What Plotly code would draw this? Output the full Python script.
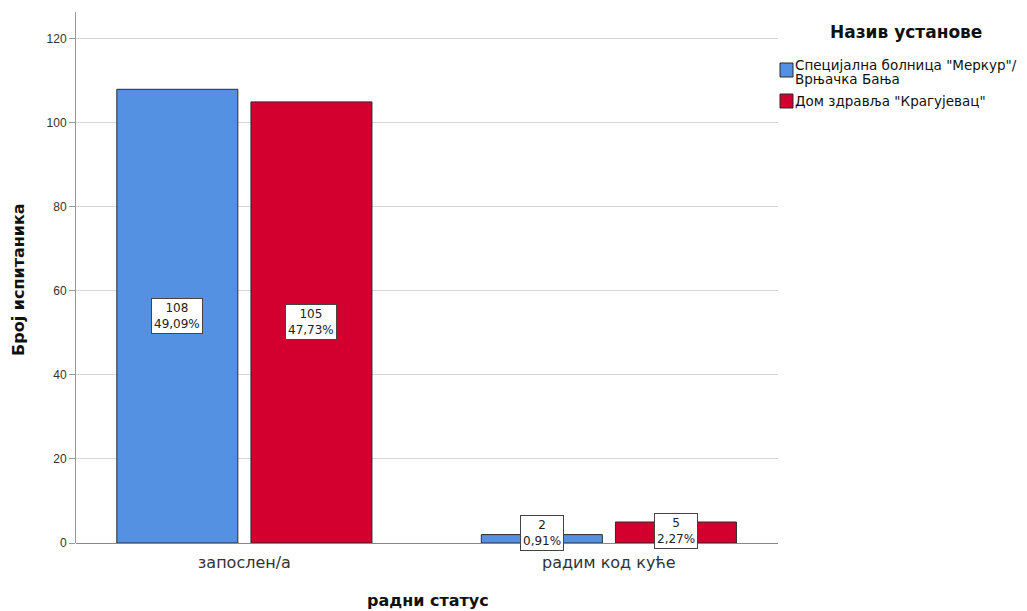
import plotly.graph_objects as go

categories = ["запослен/а", "радим код куће"]
series_names = ["Специјална болница \"Меркур\"/ Врњачка Бања", "Дом здравља \"Крагујевац\""]
legend_lines = [["Специјална болница \"Меркур\"/", "Врњачка Бања"], ["Дом здравља \"Крагујевац\""]]
values_merkur = [108, 2]
values_kg = [105, 5]
pct_merkur = ["49,09%", "0,91%"]
pct_kg = ["47,73%", "2,27%"]
colors = ["#5591e2", "#d3002f"]

FONT = "DejaVu Sans, sans-serif"
TICKFONT = "Liberation Sans, Arial, sans-serif"

W, H = 1027, 611
ML, MR, MT, MB = 76, 249, 12, 68
PW, PH = W - ML - MR, H - MT - MB


def px(x):
    return (x - ML) / PW


def py(y):
    return 1 - (y - MT) / PH


xpos = [0, 1]
bar_w = 0.332
offsets = [-0.35, 0.018]

fig = go.Figure()
for name, vals, col, off in zip(series_names, [values_merkur, values_kg], colors, offsets):
    fig.add_trace(go.Bar(
        x=xpos, y=vals, name=name, width=bar_w, offset=off,
        marker=dict(color=col, line=dict(color="#2b2b2b", width=1)),
        showlegend=False,
    ))

yshifts = [[0, 6], [0, 2]]
for vals, pcts, off, ys in zip([values_merkur, values_kg], [pct_merkur, pct_kg], offsets, yshifts):
    for xi, v, p, s in zip(xpos, vals, pcts, ys):
        fig.add_annotation(
            x=xi + off + bar_w / 2, y=v / 2, yshift=s,
            text=f"{v}<br>{p}", showarrow=False,
            font=dict(family=FONT, size=12, color="#222"),
            bgcolor="white", bordercolor="#444", borderwidth=1, borderpad=2,
            align="center",
        )

# axis titles
fig.add_annotation(xref="paper", yref="paper", x=px(18), y=py(280), textangle=-90,
                   text="<b>Број испитаника</b>", showarrow=False,
                   font=dict(family=FONT, size=16, color="#111"), xanchor="center", yanchor="middle")
fig.add_annotation(xref="paper", yref="paper", x=px(428), y=py(600),
                   text="<b>радни статус</b>", showarrow=False,
                   font=dict(family=FONT, size=16, color="#111"), xanchor="center", yanchor="middle")

# legend (drawn manually to mirror the reference layout)
fig.add_annotation(xref="paper", yref="paper", x=px(906), y=py(32),
                   text="<b>Назив установе</b>", showarrow=False,
                   font=dict(family=FONT, size=17, color="#111"), xanchor="center", yanchor="middle")
legend_boxes = [(63, 77), (94, 108)]
legend_text_y = [[65, 79], [101]]
for (y0, y1), lines, tys, col in zip(legend_boxes, legend_lines, legend_text_y, colors):
    fig.add_shape(type="rect", xref="paper", yref="paper",
                  x0=px(780), x1=px(793), y0=py(y1), y1=py(y0),
                  fillcolor=col, line=dict(color="#2b2b2b", width=1))
    for line, ty in zip(lines, tys):
        fig.add_annotation(xref="paper", yref="paper", x=px(794), y=py(ty),
                           text=line, showarrow=False, align="left",
                           font=dict(family=FONT, size=13.5, color="#111"),
                           xanchor="left", yanchor="middle", borderpad=0)

fig.update_layout(
    width=W, height=H,
    margin=dict(l=ML, r=MR, t=MT, b=MB, autoexpand=False),
    paper_bgcolor="white", plot_bgcolor="white",
    font=dict(family=FONT, color="#222"),
    barmode="overlay",
    showlegend=False,
    xaxis=dict(
        range=[-0.462, 1.464], tickvals=xpos, ticktext=categories,
        tickfont=dict(size=16, family=FONT, color="#333"),
        showgrid=False, zeroline=False, showline=False, ticks="",
        ticklabelstandoff=8,
        automargin=False,
    ),
    yaxis=dict(
        range=[0, 126.4], tickvals=[0, 20, 40, 60, 80, 100, 120],
        tickfont=dict(size=12, family=TICKFONT, color="#333"),
        showgrid=True, gridcolor="#d6d6d6", gridwidth=1,
        zeroline=True, zerolinecolor="#888", zerolinewidth=1,
        showline=True, linecolor="#999", linewidth=1,
        ticks="outside", ticklen=6, tickcolor="#999",
        automargin=False,
    ),
)

fig.write_html("out.html", config={"displayModeBar": False},
               post_script="document.body.style.margin='0px';document.body.style.overflow='hidden';")
